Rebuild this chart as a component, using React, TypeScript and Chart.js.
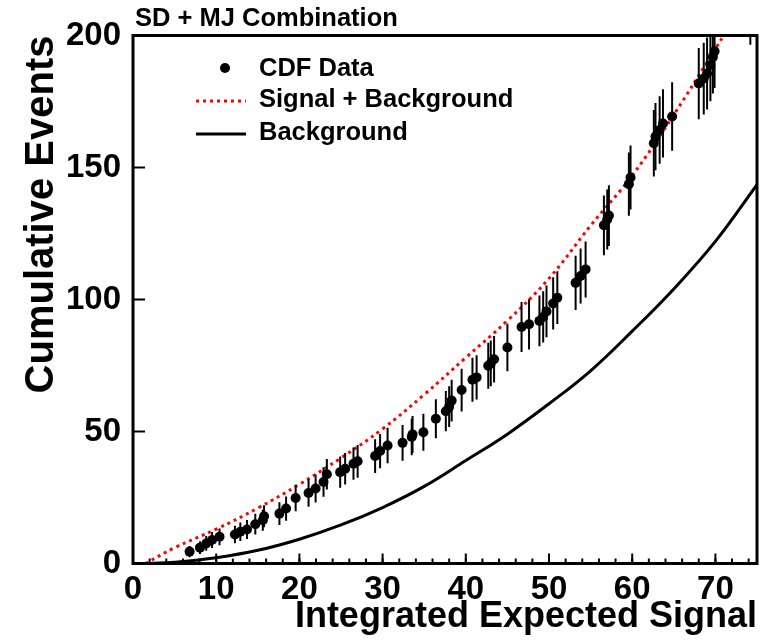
import { useEffect, useRef } from 'react';
import { Chart, registerables } from 'chart.js';

Chart.register(...registerables);

const FONT = "'Liberation Sans', Arial, Helvetica, sans-serif";

// ---- data ----
const cdfX = [6.8, 8.05, 8.8, 9.5, 10.4, 12.25, 12.9, 13.7, 14.7, 15.6, 15.75, 17.6, 18.4, 19.55, 21.1, 21.95, 22.9, 23.3, 24.9, 25.5, 26.5, 27.0, 29.1, 29.7, 30.6, 32.4, 33.5, 33.6, 34.9, 36.4, 37.6, 38.0, 38.3, 39.5, 40.8, 41.3, 42.7, 43.0, 43.4, 45.0, 46.7, 47.6, 48.85, 49.3, 49.7, 50.5, 51.0, 53.2, 53.8, 54.4, 56.6, 57.0, 57.2, 59.6, 59.8, 62.6, 62.8, 63.3, 63.7, 64.8, 68.0, 68.6, 69.0, 69.4, 69.7, 69.9, 74.2];
const cdfY = [4.5, 6.0, 7.6, 8.9, 10.1, 11.0, 12.0, 12.9, 14.9, 16.4, 17.9, 18.9, 20.8, 24.8, 26.7, 28.4, 30.9, 33.8, 34.6, 35.9, 37.8, 38.7, 40.7, 42.6, 44.7, 45.7, 47.9, 48.9, 49.7, 54.8, 57.7, 59.4, 61.7, 65.7, 69.6, 70.5, 74.9, 75.8, 77.4, 81.8, 89.6, 90.6, 91.9, 93.4, 95.5, 98.5, 100.7, 106.3, 108.9, 111.4, 128.1, 130.3, 131.8, 143.7, 146.2, 159.2, 161.7, 164.2, 166.7, 169.3, 181.8, 183.7, 185.6, 188.8, 191.9, 194.0, 211.0];
const cdfErr = [2.1, 2.4, 2.8, 3.0, 3.2, 3.3, 3.5, 3.6, 3.9, 4.0, 4.2, 4.3, 4.6, 5.0, 5.2, 5.3, 5.6, 5.8, 5.9, 6.0, 6.1, 6.2, 6.4, 6.5, 6.7, 6.8, 6.9, 7.0, 7.0, 7.4, 7.6, 7.7, 7.9, 8.1, 8.3, 8.4, 8.7, 8.7, 8.8, 9.0, 9.5, 9.5, 9.6, 9.7, 9.8, 9.9, 10.0, 10.3, 10.4, 10.6, 11.3, 11.4, 11.5, 12.0, 12.1, 12.6, 12.7, 12.8, 12.9, 13.0, 13.5, 13.6, 13.6, 13.7, 13.9, 13.9, 14.5];

const sbX = [1.5, 5, 10, 15, 20, 25, 30, 35, 40, 45, 50, 55, 60, 65, 70, 73];
const sbY = [0, 6, 13, 21, 30, 40, 51, 64, 78, 92, 108, 128, 147, 170, 195, 210];

const bgX = [2, 5, 10, 15, 20, 25, 30, 35, 40, 45, 50, 55, 60, 65, 70, 75];
const bgY = [0, 0.5, 2.2, 5.0, 9.2, 14.6, 21.2, 29.2, 39, 49, 60.5, 73, 88, 104, 122, 143.5];

const xMajorTicks = [0, 10, 20, 30, 40, 50, 60, 70];
const xMinorStep = 2;
const yMajorTicks = [0, 50, 100, 150, 200];

const chartTitle = 'SD + MJ Combination';
const xTitle = 'Integrated Expected Signal';
const yTitle = 'Cumulative Events';
const legendLabels = ['CDF Data', 'Signal + Background', 'Background'];

const errorBarPlugin = {
  id: 'errorBars',
  beforeDatasetDraw(chart: any, args: any) {
    if (args.index !== 0) return;
    const { ctx, chartArea: a, scales } = chart;
    const xs = scales.x, ys = scales.y;
    ctx.save();
    ctx.beginPath();
    ctx.rect(a.left, a.top, a.right - a.left, a.bottom - a.top);
    ctx.clip();
    ctx.strokeStyle = '#000';
    ctx.lineWidth = 2;
    for (let i = 0; i < cdfX.length; i++) {
      const px = xs.getPixelForValue(cdfX[i]);
      ctx.beginPath();
      ctx.moveTo(px, ys.getPixelForValue(cdfY[i] - cdfErr[i]));
      ctx.lineTo(px, ys.getPixelForValue(cdfY[i] + cdfErr[i]));
      ctx.stroke();
    }
    ctx.restore();
  },
};

const framePlugin = {
  id: 'frame',
  afterDraw(chart: any) {
    const { ctx, chartArea: a, scales } = chart;
    const xs = scales.x, ys = scales.y;
    ctx.save();
    ctx.strokeStyle = '#000';
    ctx.lineWidth = 2;
    for (let v = xs.min; v <= xs.max; v += xMinorStep) {
      const px = xs.getPixelForValue(v);
      ctx.beginPath();
      ctx.moveTo(px, a.bottom);
      ctx.lineTo(px, a.bottom - 5);
      ctx.stroke();
    }
    xMajorTicks.forEach((v) => {
      const px = xs.getPixelForValue(v);
      ctx.beginPath();
      ctx.moveTo(px, a.bottom);
      ctx.lineTo(px, a.bottom - 10);
      ctx.stroke();
    });
    yMajorTicks.forEach((v) => {
      const py = ys.getPixelForValue(v);
      ctx.beginPath();
      ctx.moveTo(a.left, py);
      ctx.lineTo(a.left + 12, py);
      ctx.stroke();
    });
    ctx.lineWidth = 3;
    ctx.strokeRect(a.left, a.top, a.right - a.left, a.bottom - a.top);

    ctx.fillStyle = '#000';
    ctx.font = `bold 25.5px ${FONT}`;
    ctx.textAlign = 'left';
    ctx.textBaseline = 'middle';
    ctx.fillText(chartTitle, a.left + 2, 19);

    const ds = chart.data.datasets;
    ctx.font = `bold 25.5px ${FONT}`;
    const textX = 259;
    const rows = [69, 100, 133];
    ctx.beginPath();
    ctx.arc(225, rows[0] - 1, ds[0].pointRadius, 0, Math.PI * 2);
    ctx.fillStyle = ds[0].pointBackgroundColor;
    ctx.fill();
    ctx.save();
    ctx.strokeStyle = ds[1].borderColor;
    ctx.lineWidth = ds[1].borderWidth;
    ctx.setLineDash(ds[1].borderDash);
    ctx.beginPath();
    ctx.moveTo(196, rows[1] + 1);
    ctx.lineTo(246, rows[1] + 1);
    ctx.stroke();
    ctx.restore();
    ctx.strokeStyle = ds[2].borderColor;
    ctx.lineWidth = ds[2].borderWidth;
    ctx.beginPath();
    ctx.moveTo(196, rows[2] + 1);
    ctx.lineTo(246, rows[2] + 1);
    ctx.stroke();
    ctx.fillStyle = '#000';
    ds.forEach((d: any, i: number) => {
      ctx.fillText(d.label, textX, rows[i]);
    });
    ctx.restore();
  },
};

export default function App() {
  const ref = useRef<HTMLCanvasElement | null>(null);
  useEffect(() => {
    if (!ref.current) return;
    const chart = new Chart(ref.current, {
      type: 'scatter',
      data: {
        datasets: [
          {
            label: legendLabels[0],
            data: cdfX.map((x, i) => ({ x, y: cdfY[i] })),
            pointRadius: 5,
            pointBackgroundColor: '#000',
            pointBorderWidth: 0,
            borderColor: '#000',
            showLine: false,
          } as any,
          {
            label: legendLabels[1],
            data: sbX.map((x, i) => ({ x, y: sbY[i] })),
            showLine: true,
            borderColor: '#ff0000',
            borderWidth: 3,
            borderDash: [3, 4],
            pointRadius: 0,
            tension: 0.4,
            clip: 0,
          },
          {
            label: legendLabels[2],
            data: bgX.map((x, i) => ({ x, y: bgY[i] })),
            showLine: true,
            borderColor: '#000',
            borderWidth: 3,
            pointRadius: 0,
            tension: 0.4,
            clip: 0,
          },
        ],
      },
      options: {
        animation: false,
        responsive: false,
        maintainAspectRatio: false,
        layout: { padding: { top: 35.5, right: 25, left: 0, bottom: 0 } },
        plugins: { legend: { display: false }, tooltip: { enabled: false }, title: { display: false } },
        scales: {
          x: {
            type: 'linear',
            min: 0,
            max: 75,
            afterBuildTicks: (s: any) => {
              s.ticks = xMajorTicks.map((v) => ({ value: v }));
            },
            afterFit: (s: any) => {
              s.height = 80.5;
            },
            grid: { display: false, drawTicks: false },
            border: { display: false },
            ticks: {
              color: '#000',
              padding: 7,
              maxRotation: 0,
              autoSkip: false,
              font: { family: FONT, size: 33, weight: 'bold' },
            },
            title: {
              display: true,
              text: xTitle,
              align: 'end',
              color: '#000',
              font: { family: FONT, size: 36, weight: 'bold' },
              padding: { top: 0, bottom: 5 },
            },
          },
          y: {
            type: 'linear',
            min: 0,
            max: 200,
            afterBuildTicks: (s: any) => {
              s.ticks = yMajorTicks.map((v) => ({ value: v }));
            },
            afterFit: (s: any) => {
              s.width = 133;
            },
            grid: { display: false, drawTicks: false },
            border: { display: false },
            ticks: {
              color: '#000',
              padding: 12,
              font: { family: FONT, size: 33, weight: 'bold' },
            },
            title: {
              display: true,
              text: yTitle,
              align: 'end',
              color: '#000',
              font: { family: FONT, size: 40, weight: 'bold' },
              padding: { top: 18, bottom: 0 },
            },
          },
        },
      } as any,
      plugins: [errorBarPlugin, framePlugin],
    });
    return () => chart.destroy();
  }, []);
  return (
    <div style={{ position: 'fixed', left: 0, top: 0, width: 782, height: 644, background: '#fff' }}>
      <canvas ref={ref} width={782} height={644} style={{ display: 'block' }} />
    </div>
  );
}
